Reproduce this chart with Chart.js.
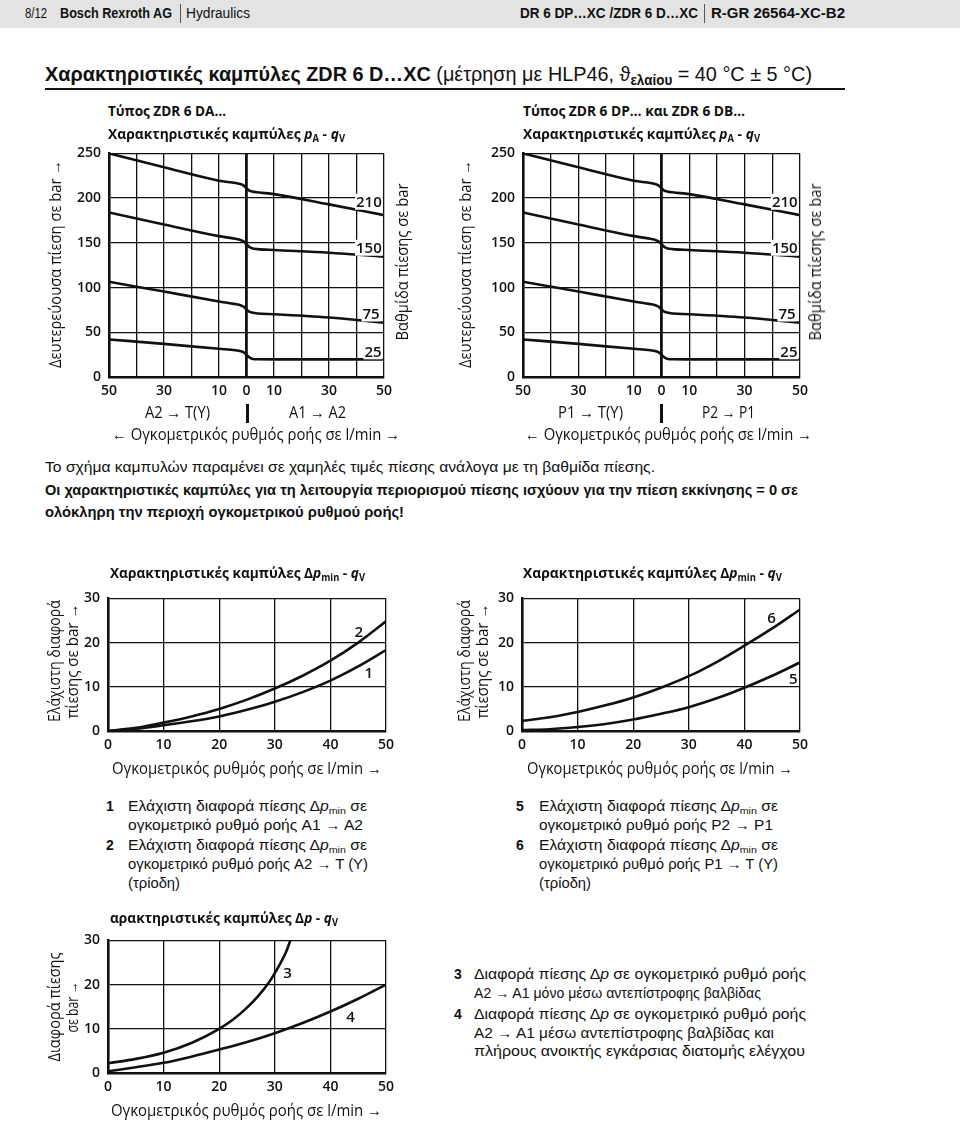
<!DOCTYPE html>
<html>
<head>
<meta charset="utf-8">
<script src="https://cdn.jsdelivr.net/npm/chart.js@4.4.0/dist/chart.umd.min.js"></script>
<style>
body{margin:0;background:#fff;}
#page{position:relative;width:960px;height:1121px;overflow:hidden;font-family:"Liberation Sans",Arial,sans-serif;color:#111;}
.t{position:absolute;white-space:nowrap;line-height:1;transform-origin:left center;}
.r{position:absolute;white-space:nowrap;line-height:1;transform-origin:center center;}
canvas{position:absolute;}
sub{font-size:68%;vertical-align:-0.35em;line-height:0;}
.bar{position:absolute;background:#111;}
</style>
</head>
<body>
<div id="page">
  <div class="bar" style="left:0;top:0;width:960px;height:28px;background:#e3e3e3"></div>
  <div class="bar" style="left:45px;top:88px;width:800px;height:2px"></div>
  <div class="bar" style="left:246px;top:404px;width:3px;height:19px"></div>
  <div class="bar" style="left:660px;top:404px;width:3px;height:19px"></div>
  <div class="bar" style="left:180px;top:4px;width:1px;height:19px;background:#555"></div>
  <div class="bar" style="left:704px;top:4px;width:1px;height:19px;background:#555"></div>
  <canvas id="c1"></canvas>
  <canvas id="c2"></canvas>
  <canvas id="c3"></canvas>
  <canvas id="c4"></canvas>
  <canvas id="c5"></canvas>
</div>
<script>
// ---- data: top charts, p_A over q_V (left side = A2->T / P1->T, right side = A1->A2 / P2->P1)
const qTop = [-50, -30, -10, -4, -2, -1, 0, 1, 2, 4, 10, 30, 50];
const p210 = [250, 234.5, 219.5, 216.8, 215.5, 214, 211, 208.5, 207.5, 206.5, 204.5, 193, 181];
const p150 = [184, 170.5, 157.5, 154.5, 153, 151.5, 148.5, 145.5, 144, 143, 142, 139, 134.5];
const p75 = [106.5, 95.5, 84.5, 81.5, 80, 78.5, 75.5, 73, 72, 71, 70.2, 66.5, 60.7];
const p25 = [42, 37, 31.5, 30, 28.8, 27.5, 25, 22, 20.5, 19.8, 19.7, 19.7, 19.7];
const stageLabels = ['210', '150', '75', '25'];
const topTickShown = [-50, -30, -10, 0, 10, 30, 50];

// ---- data: dp_min and dp charts
const qLow = [0, 5, 10, 15, 20, 25, 30, 35, 40, 45, 50];
const dp1 = [0, 0.5, 1.3, 2.2, 3.3, 4.8, 6.6, 8.8, 11.4, 14.6, 18.3];
const dp2 = [0, 0.7, 1.9, 3.3, 5.0, 7.1, 9.6, 12.5, 15.9, 20.0, 24.8];
const dp5 = [0.2, 0.4, 0.9, 1.6, 2.6, 3.9, 5.4, 7.4, 9.8, 12.5, 15.5];
const dp6 = [2.3, 3.1, 4.3, 5.8, 7.6, 9.8, 12.4, 15.6, 19.3, 23.2, 27.5];
const dp4 = [0.4, 1.3, 2.3, 3.7, 5.3, 7.0, 9.0, 11.3, 13.9, 16.8, 20.0];
const q3 = [0, 5, 10, 15, 20, 22.5, 25, 27, 29, 30, 31, 32, 32.8];
const dp3 = [2.2, 3.2, 4.6, 6.8, 10, 12.1, 14.8, 17.4, 20.6, 22.6, 24.8, 27.3, 30];

const INK = '#111';
const tickFont = {family: 'Open Sans', size: 14, weight: '600'};

function pts(xs, ys) { return xs.map((x, i) => ({x: x, y: ys[i]})); }
function line(xs, ys) {
  return {data: pts(xs, ys), borderColor: INK, borderWidth: 2.6, pointRadius: 0,
    cubicInterpolationMode: 'monotone', fill: false};
}

// curve numbers / stage labels, placed in data coordinates
const curveLabels = {
  id: 'curveLabels',
  afterDatasetsDraw(chart, args, opts) {
    const ctx = chart.ctx, xs = chart.scales.x, ys = chart.scales.y;
    ctx.save();
    ctx.font = '600 15px "Open Sans"';
    ctx.textAlign = 'center';
    ctx.textBaseline = 'middle';
    (opts.items || []).forEach(it => {
      const px = xs.getPixelForValue(it.x), py = ys.getPixelForValue(it.y);
      if (it.bg) {
        const w = ctx.measureText(it.text).width;
        ctx.fillStyle = '#fff';
        ctx.fillRect(px - w / 2 - 1, py - 8, w + 2, 16);
      }
      ctx.fillStyle = INK;
      ctx.fillText(it.text, px, py + 1);
    });
    ctx.restore();
  }
};

function makeChart(id, area, datasets, sc, items) {
  const yw = 52, xh = 30, pt = 14, pr = 18;
  const cv = document.getElementById(id);
  const w = area.r - area.l + yw + pr, h = area.b - area.t + pt + xh;
  cv.width = w; cv.height = h;
  cv.style.left = (area.l - yw) + 'px';
  cv.style.top = (area.t - pt) + 'px';
  cv.style.width = w + 'px'; cv.style.height = h + 'px';
  return new Chart(cv, {
    type: 'line',
    data: {datasets: datasets},
    options: {
      responsive: false, animation: false, devicePixelRatio: 1, events: [],
      layout: {padding: {top: pt, right: pr, left: 0, bottom: 0}},
      plugins: {legend: {display: false}, tooltip: {enabled: false}, curveLabels: {items: items}},
      scales: {
        x: {
          type: 'linear', min: sc.xmin, max: sc.xmax,
          afterFit: s => { s.height = xh; },
          border: {display: true, color: INK, width: 2.6},
          grid: {color: INK, drawTicks: false,
            lineWidth: c => (sc.midLine && c.tick && c.tick.value === 0) ? 2.8 : 1.3},
          ticks: {stepSize: 10, padding: 6, color: INK, font: tickFont, maxRotation: 0, autoSkip: false,
            callback: sc.xcb || (v => v)}
        },
        y: {
          type: 'linear', min: sc.ymin, max: sc.ymax,
          afterFit: s => { s.width = yw; },
          border: {display: true, color: INK, width: 2.6},
          grid: {color: INK, lineWidth: 1.3, drawTicks: false},
          ticks: {stepSize: sc.ystep, padding: 8, color: INK, font: tickFont}
        }
      }
    },
    plugins: [curveLabels]
  });
}

const topScale = {xmin: -50, xmax: 50, ymin: 0, ymax: 250, ystep: 50, midLine: true,
  xcb: v => topTickShown.includes(v) ? String(Math.abs(v)) : ''};
const topSets = () => [line(qTop, p210), line(qTop, p150), line(qTop, p75), line(qTop, p25)];
const lowScale = {xmin: 0, xmax: 50, ymin: 0, ymax: 30, ystep: 10};
const stageItems = () => [
  {x: 44.5, y: 196, text: stageLabels[0], bg: true},
  {x: 44.5, y: 144.5, text: stageLabels[1], bg: true},
  {x: 45.3, y: 71, text: stageLabels[2], bg: true},
  {x: 46, y: 28.7, text: stageLabels[3], bg: true}
];

makeChart('c1', {l: 109, r: 384, t: 151, b: 377}, topSets(), topScale, stageItems());
makeChart('c2', {l: 523, r: 800, t: 151, b: 377}, topSets(), topScale, stageItems());
makeChart('c3', {l: 108, r: 386, t: 596, b: 731}, [line(qLow, dp2), line(qLow, dp1)], lowScale, [
  {x: 45.1, y: 22.4, text: '2'}, {x: 46.9, y: 13.2, text: '1'}
]);
makeChart('c4', {l: 522, r: 800, t: 596, b: 731}, [line(qLow, dp6), line(qLow, dp5)], lowScale, [
  {x: 44.9, y: 25.7, text: '6'}, {x: 48.8, y: 11.8, text: '5'}
]);
makeChart('c5', {l: 108, r: 386, t: 938, b: 1073}, [line(q3, dp3), line(qLow, dp4)], lowScale, [
  {x: 32.3, y: 22.6, text: '3'}, {x: 43.6, y: 12.7, text: '4'}
]);

// ---- page texts: [x, y(center), html, width to fit, css, mode]  mode: l = left, c = centred, r = rotated
const OS = 'font-family:"Open Sans",sans-serif;font-size:16px;';
const OSB = 'font-family:"Open Sans",sans-serif;font-size:15px;font-weight:700;';
const HV = 'font-size:14px;';
const dpmin = 'Δ<i>p</i><sub>min</sub>';
const texts = [
  [25, 13, '8/12', 22, HV, 'l'],
  [60, 13, '<b>Bosch Rexroth AG</b>', 112, HV, 'l'],
  [186, 13, 'Hydraulics', 64, HV, 'l'],
  [520, 13, '<b>DR 6 DP…XC /ZDR 6 D…XC</b>', 178, HV, 'l'],
  [711, 13, '<b>R-GR 26564-XC-B2</b>', 134, HV, 'l'],
  [45, 73, '<b>Χαρακτηριστικές καμπύλες ZDR 6 D…XC</b> (μέτρηση με HLP46, ϑ<sub><b>ελαίου</b></sub> = 40 °C ± 5 °C)', 767, 'font-size:21px;', 'l'],

  [108, 110, 'Τύπος ZDR 6 DA…', 118, OSB, 'l'],
  [108, 133, 'Χαρακτηριστικές καμπύλες <i>p</i><sub>A</sub> - <i>q</i><sub>V</sub>', 237, OSB, 'l'],
  [523, 110, 'Τύπος ZDR 6 DP… και ZDR 6 DB…', 222, OSB, 'l'],
  [523, 133, 'Χαρακτηριστικές καμπύλες <i>p</i><sub>A</sub> - <i>q</i><sub>V</sub>', 237, OSB, 'l'],
  [177, 412, 'A2 → T(Y)', 65, OS, 'c'],
  [317, 412, 'A1 → A2', 57, OS, 'c'],
  [112, 434, '← Ογκομετρικός ρυθμός ροής σε l/min →', 288, OS, 'l'],
  [590, 412, 'P1 → T(Y)', 65, OS, 'c'],
  [728, 412, 'P2 → P1', 53, OS, 'c'],
  [525, 434, '← Ογκομετρικός ρυθμός ροής σε l/min →', 287, OS, 'l'],
  [55, 264, 'Δευτερεύουσα πίεση σε bar →', 208, OS, 'r'],
  [465, 264, 'Δευτερεύουσα πίεση σε bar →', 208, OS, 'r'],
  [402, 262, 'Βαθμίδα πίεσης σε bar', 157, OS, 'r'],
  [815, 262, 'Βαθμίδα πίεσης σε bar', 157, OS, 'r'],

  [45, 466, 'Το σχήμα καμπυλών παραμένει σε χαμηλές τιμές πίεσης ανάλογα με τη βαθμίδα πίεσης.', 610, 'font-size:15px;', 'l'],
  [45, 489, '<b>Οι χαρακτηριστικές καμπύλες για τη λειτουργία περιορισμού πίεσης ισχύουν για την πίεση εκκίνησης = 0 σε</b>', 753, 'font-size:15px;', 'l'],
  [45, 511, '<b>ολόκληρη την περιοχή ογκομετρικού ρυθμού ροής!</b>', 359, 'font-size:15px;', 'l'],

  [110, 572, 'Χαρακτηριστικές καμπύλες Δ<i>p</i><sub>min</sub> - <i>q</i><sub>V</sub>', 255, OSB, 'l'],
  [523, 572, 'Χαρακτηριστικές καμπύλες Δ<i>p</i><sub>min</sub> - <i>q</i><sub>V</sub>', 259, OSB, 'l'],
  [112, 768, 'Ογκομετρικός ρυθμός ροής σε l/min →', 270, OS, 'l'],
  [527, 768, 'Ογκομετρικός ρυθμός ροής σε l/min →', 266, OS, 'l'],
  [54, 661, 'Ελάχιστη διαφορά', 122, OS, 'r'],
  [72, 661, 'πίεσης σε bar →', 115, OS, 'r'],
  [464, 661, 'Ελάχιστη διαφορά', 122, OS, 'r'],
  [482, 661, 'πίεσης σε bar →', 115, OS, 'r'],

  [106, 806, '<b>1</b>', 0, HV, 'l'],
  [128, 806, 'Ελάχιστη διαφορά πίεσης ' + dpmin + ' σε', 239, HV, 'l'],
  [128, 825, 'ογκομετρικό ρυθμό ροής A1 → A2', 235, HV, 'l'],
  [106, 845, '<b>2</b>', 0, HV, 'l'],
  [128, 845, 'Ελάχιστη διαφορά πίεσης ' + dpmin + ' σε', 239, HV, 'l'],
  [128, 864, 'ογκομετρικό ρυθμό ροής A2 → T (Y)', 240, HV, 'l'],
  [128, 883, '(τρίοδη)', 52, HV, 'l'],
  [516, 806, '<b>5</b>', 0, HV, 'l'],
  [539, 806, 'Ελάχιστη διαφορά πίεσης ' + dpmin + ' σε', 239, HV, 'l'],
  [539, 825, 'ογκομετρικό ρυθμό ροής P2 → P1', 234, HV, 'l'],
  [516, 845, '<b>6</b>', 0, HV, 'l'],
  [539, 845, 'Ελάχιστη διαφορά πίεσης ' + dpmin + ' σε', 239, HV, 'l'],
  [539, 864, 'ογκομετρικό ρυθμό ροής P1 → T (Y)', 239, HV, 'l'],
  [539, 883, '(τρίοδη)', 52, HV, 'l'],

  [110, 917, 'αρακτηριστικές καμπύλες Δ<i>p</i> - <i>q</i><sub>V</sub>', 228, OSB, 'l'],
  [111, 1110, 'Ογκομετρικός ρυθμός ροής σε l/min →', 271, OS, 'l'],
  [54, 1007, 'Διαφορά πίεσης', 109, OS, 'r'],
  [72, 1007, 'σε bar →', 51, OS, 'r'],
  [454, 974, '<b>3</b>', 0, HV, 'l'],
  [474, 974, 'Διαφορά πίεσης Δ<i>p</i> σε ογκομετρικό ρυθμό ροής', 332, HV, 'l'],
  [474, 993, 'A2 → A1 μόνο μέσω αντεπίστροφης βαλβίδας', 287, HV, 'l'],
  [454, 1014, '<b>4</b>', 0, HV, 'l'],
  [474, 1014, 'Διαφορά πίεσης Δ<i>p</i> σε ογκομετρικό ρυθμό ροής', 332, HV, 'l'],
  [474, 1033, 'A2 → A1 μέσω αντεπίστροφης βαλβίδας και', 300, HV, 'l'],
  [474, 1051, 'πλήρους ανοικτής εγκάρσιας διατομής ελέγχου', 331, HV, 'l']
];

const page = document.getElementById('page');
const els = texts.map(t => {
  const el = document.createElement('div');
  el.className = t[5] === 'r' ? 'r' : 't';
  el.style.cssText += t[4];
  el.innerHTML = t[2];
  page.appendChild(el);
  return el;
});

function placeTexts() {
  texts.forEach((t, i) => {
    const el = els[i], [x, y, , w, , mode] = t;
    const nat = el.getBoundingClientRect().width;
    const s = w ? w / nat : 1;
    if (mode === 'r') {
      el.style.left = x + 'px'; el.style.top = y + 'px';
      el.style.transform = 'translate(-50%,-50%) rotate(-90deg) scaleX(' + s + ')';
    } else {
      el.style.left = (mode === 'c' ? x - w / 2 : x) + 'px';
      el.style.top = y + 'px';
      el.style.transform = 'translateY(-50%) scaleX(' + s + ')';
    }
  });
}
document.fonts.ready.then(placeTexts);
</script>
</body>
</html>
